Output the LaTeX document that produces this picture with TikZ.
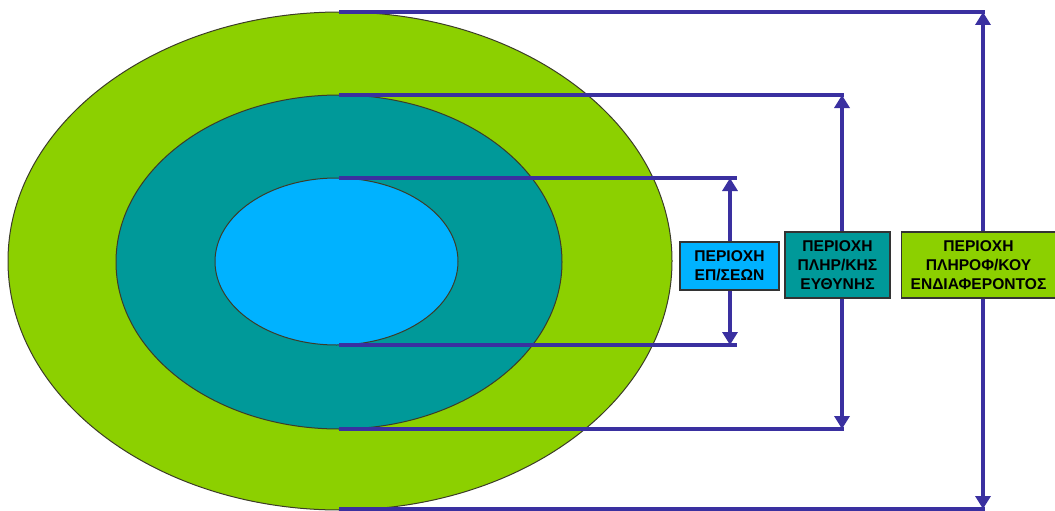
\documentclass[tikz,border=0pt]{standalone}
\usepackage{fontspec}
\setmainfont{Liberation Sans}
\usetikzlibrary{shapes.geometric,arrows.meta}
\definecolor{cgreen}{RGB}{140,208,0}
\definecolor{cteal}{RGB}{0,153,153}
\definecolor{cblue}{RGB}{0,178,255}
\definecolor{cline}{RGB}{58,48,160}
\definecolor{cedge}{RGB}{60,60,40}
\tikzset{
  zone/.style={ellipse, draw=cedge, line width=1pt, inner sep=0pt, outer sep=0pt},
  conn/.style={draw=cline, line width=3.6pt},
  dim/.style={draw=cline, line width=3.6pt, {Triangle[width=15pt,length=13pt]}-{Triangle[width=15pt,length=13pt]}},
  label/.style={draw=black!80, line width=1.3pt, inner sep=0pt, align=center,
    font=\bfseries\fontsize{15.6}{19}\selectfont, text=black}
}
\begin{document}
\begin{tikzpicture}[x=1pt,y=-1pt]
\useasboundingbox (0,0) rectangle (1055,511);
% zones
\node[zone, fill=cgreen, minimum width=664pt, minimum height=498pt] (outer) at (340,261) {};
\node[zone, fill=cteal, minimum width=446pt, minimum height=334pt] (middle) at (339,262) {};
\node[zone, fill=cblue, minimum width=243pt, minimum height=167pt] (inner) at (336.5,261.5) {};
% end coordinates
\coordinate (oT) at (985,12);
\coordinate (oB) at (985,509);
\coordinate (oTa) at (983,12);
\coordinate (oBa) at (983,509);
\coordinate (mT) at (844,95);
\coordinate (mB) at (844,429);
\coordinate (mTa) at (842,95);
\coordinate (mBa) at (842,429);
\coordinate (iT) at (737,178);
\coordinate (iB) at (737,345);
\coordinate (iTa) at (730,178);
\coordinate (iBa) at (730,345);
% horizontal lines
\draw[conn] (339,12) -- (oT);
\draw[conn] (339,509) -- (oB);
\draw[conn] (339,95) -- (mT);
\draw[conn] (339,429) -- (mB);
\draw[conn] (339,178) -- (iT);
\draw[conn] (339,345) -- (iB);
% dimension arrows
\draw[dim] (oTa) -- (oBa);
\draw[dim] (mTa) -- (mBa);
\draw[dim] (iTa) -- (iBa);
% labels
\node[label, fill=cblue, minimum width=99pt, minimum height=48pt] (l1) at (729.5,266) {ΠΕΡΙΟΧΗ\\ΕΠ/ΣΕΩΝ};
\node[label, fill=cteal, minimum width=105pt, minimum height=66pt] (l2) at (837.5,265) {ΠΕΡΙΟΧΗ\\ΠΛΗΡ/ΚΗΣ\\ΕΥΘΥΝΗΣ};
\node[label, fill=cgreen, minimum width=154pt, minimum height=66pt] (l3) at (978.5,265) {ΠΕΡΙΟΧΗ\\ΠΛΗΡΟΦ/ΚΟΥ\\ΕΝΔΙΑΦΕΡΟΝΤΟΣ};
\end{tikzpicture}
\end{document}
